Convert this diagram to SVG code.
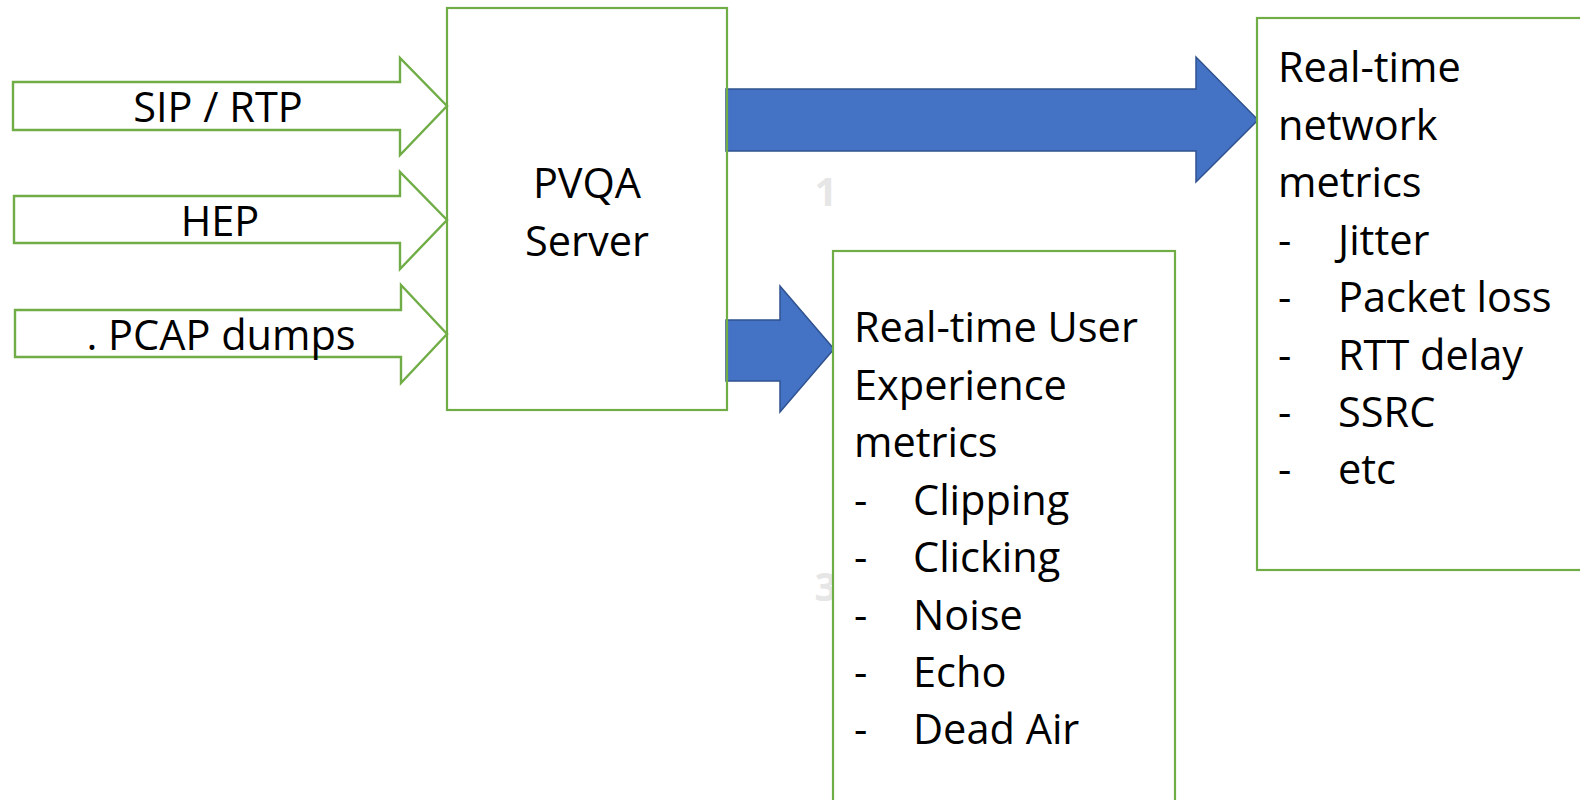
<svg xmlns="http://www.w3.org/2000/svg" width="1580" height="800" viewBox="0 0 1580 800">
<style>
.box{fill:#ffffff;stroke:#70AD47;stroke-width:2.2}
.inarrow{fill:#ffffff;stroke:#70AD47;stroke-width:2.4;stroke-linejoin:miter}
.outarrow{fill:#4472C4;stroke:#2F528F;stroke-width:1.5}
.t{font-family:"Open Sans","Noto Sans",sans-serif;font-size:41.5px;fill:#000000}
.mid{text-anchor:middle}
.ghost{font-family:"Open Sans","Noto Sans",sans-serif;font-size:40px;font-weight:bold;fill:#E7E6E6;text-anchor:middle}
</style>
<rect width="1580" height="800" fill="#ffffff"/>
<text class="ghost" x="826" y="206">1</text>
<text class="ghost" x="826" y="601">3</text>
<g id="connectors">
  <g id="in-sip">
    <polygon class="inarrow" points="13,82 400,82 400,58 447,106 400,155 400,130 13,130"/>
    <text class="t mid" x="218" y="122">SIP / RTP</text>
  </g>
  <g id="in-hep">
    <polygon class="inarrow" points="14,196 400,196 400,172 447,220 400,269 400,243 14,243"/>
    <text class="t mid" x="220" y="236">HEP</text>
  </g>
  <g id="in-pcap">
    <polygon class="inarrow" points="15,310 401,310 401,285 447,334 401,383 401,357 15,357"/>
    <text class="t mid" x="221" y="350">. PCAP dumps</text>
  </g>
  <polygon id="out-network" class="outarrow" points="726,89 1196,89 1196,57 1258,120 1196,182 1196,151 726,151"/>
  <polygon id="out-ux" class="outarrow" points="726,320 780,320 780,286 834,349 780,412 780,381 726,381"/>
</g>
<g id="node-server">
  <rect class="box" x="447" y="8" width="280" height="402" style="fill:none"/>
  <text class="t mid" x="587" y="198">PVQA</text>
  <text class="t mid" x="587" y="256">Server</text>
</g>
<g id="node-ux">
  <rect class="box" x="833" y="251" width="342" height="560"/>
  <text class="t" x="854" y="342">Real-time User</text>
  <text class="t" x="854" y="400">Experience</text>
  <text class="t" x="854" y="457">metrics</text>
  <text class="t" x="854" y="515">-</text><text class="t" x="913" y="515">Clipping</text>
  <text class="t" x="854" y="572">-</text><text class="t" x="913" y="572">Clicking</text>
  <text class="t" x="854" y="630">-</text><text class="t" x="913" y="630">Noise</text>
  <text class="t" x="854" y="687">-</text><text class="t" x="913" y="687">Echo</text>
  <text class="t" x="854" y="744">-</text><text class="t" x="913" y="744">Dead Air</text>
</g>
<g id="node-network">
  <rect class="box" x="1257" y="18" width="340" height="552"/>
  <text class="t" x="1278" y="82">Real-time</text>
  <text class="t" x="1278" y="140">network</text>
  <text class="t" x="1278" y="197">metrics</text>
  <text class="t" x="1278" y="255">-</text><text class="t" x="1338" y="255">Jitter</text>
  <text class="t" x="1278" y="312">-</text><text class="t" x="1338" y="312">Packet loss</text>
  <text class="t" x="1278" y="370">-</text><text class="t" x="1338" y="370">RTT delay</text>
  <text class="t" x="1278" y="427">-</text><text class="t" x="1338" y="427">SSRC</text>
  <text class="t" x="1278" y="484">-</text><text class="t" x="1338" y="484">etc</text>
</g>
</svg>
